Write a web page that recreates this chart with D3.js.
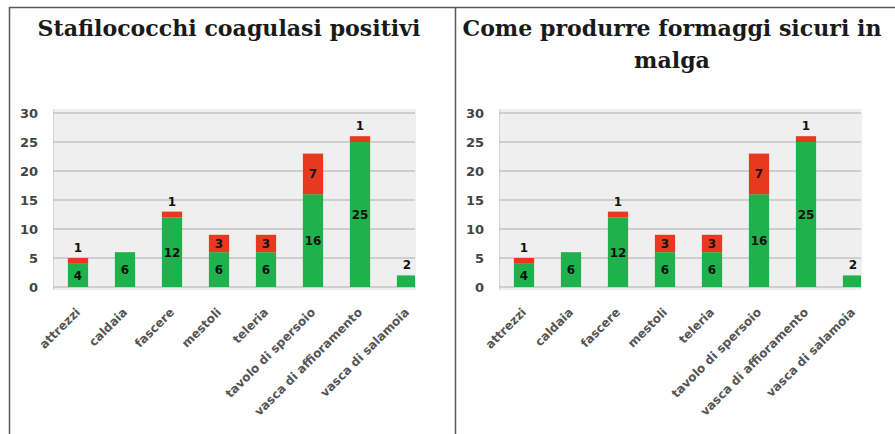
<!DOCTYPE html>
<html><head><meta charset="utf-8">
<script src="https://cdn.jsdelivr.net/npm/d3@7"></script>
<style>body{margin:0;background:#fff}svg{display:block}</style>
</head><body>
<svg id="c" width="895" height="434"></svg>
<script>
const categories = ["attrezzi","caldaia","fascere","mestoli","teleria","tavolo di spersoio","vasca di affioramento","vasca di salamoia"];
const greenValues = [4,6,12,6,6,16,25,2];
const redValues = [1,0,1,3,3,7,1,0];
const yTicks = [0,5,10,15,20,25,30];
const leftTitle = ["Stafilococchi coagulasi positivi"];
const rightTitle = ["Come produrre formaggi sicuri in","malga"];

const svg = d3.select("#c");
const GREEN = "#1fb14c", RED = "#e8391f";

// table borders
svg.append("line").attr("x1",9).attr("x2",895).attr("y1",7.5).attr("y2",7.5).attr("stroke","#5a5a5a").attr("stroke-width",1.5);
svg.append("line").attr("x1",9.5).attr("x2",9.5).attr("y1",7).attr("y2",434).attr("stroke","#5a5a5a").attr("stroke-width",1.5);
svg.append("line").attr("x1",455.5).attr("x2",455.5).attr("y1",7).attr("y2",434).attr("stroke","#5a5a5a").attr("stroke-width",1.5);

function title(lines, cx){
  const t = svg.append("text").attr("text-anchor","middle")
    .attr("font-family","'DejaVu Serif',serif").attr("font-weight","bold")
    .attr("font-size",22.1).attr("fill","#1a1a1a");
  lines.forEach((l,i)=>t.append("tspan").attr("x",cx).attr("y",36+i*32).text(l));
}
title(leftTitle, 229);
title(rightTitle, 672);

function chart(ox, id){
  const g = svg.append("g").attr("transform",`translate(${ox},0)`);
  const y = d3.scaleLinear().domain([0,30]).range([287,113]);
  const x = d3.scaleBand().domain(categories).range([54.5,430.5]).paddingInner(0.57).paddingOuter(0.285);
  const clipId = "clip"+id;
  g.append("clipPath").attr("id",clipId).append("rect").attr("x",53).attr("y",100).attr("width",362).attr("height",200);
  g.append("rect").attr("x",53).attr("y",109).attr("width",363).attr("height",181).attr("fill","#efefef");
  g.append("line").attr("x1",53.5).attr("x2",53.5).attr("y1",109).attr("y2",290).attr("stroke","#d0d4dc");
  g.selectAll(".grid").data(yTicks).join("line")
    .attr("x1",53).attr("x2",415).attr("y1",d=>y(d)).attr("y2",d=>y(d))
    .attr("stroke","#c3c3c3").attr("stroke-width",1.5);
  const yAxis = d3.axisLeft(y).tickValues(yTicks).tickSize(0).tickPadding(0);
  const ya = g.append("g").attr("transform","translate(38,0)").call(yAxis);
  ya.select(".domain").remove();
  ya.selectAll("text").attr("font-family","'DejaVu Sans',sans-serif").attr("font-weight","bold").attr("font-size",13).attr("fill","#444");

  const bars = g.append("g").attr("clip-path",`url(#${clipId})`);
  bars.selectAll(".g").data(categories).join("rect")
    .attr("x",d=>x(d)).attr("width",x.bandwidth())
    .attr("y",(d,i)=>y(greenValues[i])).attr("height",(d,i)=>y(0)-y(greenValues[i])).attr("fill",GREEN);
  bars.selectAll(".r").data(categories).join("rect")
    .attr("x",d=>x(d)).attr("width",x.bandwidth())
    .attr("y",(d,i)=>y(greenValues[i]+redValues[i])).attr("height",(d,i)=>y(greenValues[i])-y(greenValues[i]+redValues[i])).attr("fill",RED);

  const lab = g.append("g").attr("font-family","'DejaVu Sans',sans-serif").attr("font-weight","bold").attr("font-size",12).attr("fill","#111").attr("text-anchor","middle");
  categories.forEach((c,i)=>{
    const cx = x(c)+x.bandwidth()/2;
    const gv = greenValues[i], rv = redValues[i], top = y(gv+rv);
    if(gv>=3) lab.append("text").attr("x",cx).attr("y",(y(0)+y(gv))/2+4.5).text(gv);
    else lab.append("text").attr("x",cx).attr("y",top-6).text(gv);
    if(rv>=3) lab.append("text").attr("x",cx).attr("y",(y(gv)+top)/2+4.5).text(rv);
    else if(rv>0) lab.append("text").attr("x",cx).attr("y",top-6).text(rv);
  });

  const xl = g.append("g").attr("font-family","'DejaVu Sans',sans-serif").attr("font-weight","bold").attr("font-size",12).attr("fill","#555");
  categories.forEach(c=>{
    const cx = x(c)+x.bandwidth()/2 + 3;
    xl.append("text").attr("text-anchor","end").attr("transform",`translate(${cx},313) rotate(-45)`).text(c);
  });
}
chart(0,"a");
chart(446,"b");
</script>
</body></html>
